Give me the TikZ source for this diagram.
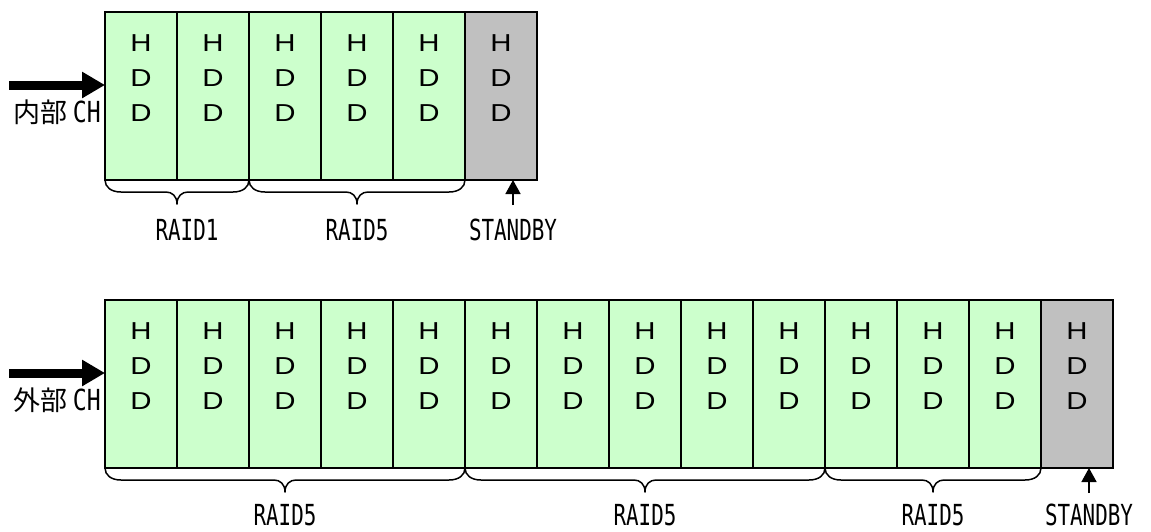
\documentclass[tikz,border=0pt]{standalone}
\usepackage{fontspec}
\setmainfont{Liberation Sans}
\newfontfamily\cjkfont{Noto Sans CJK JP}
\newfontfamily\monofont{DejaVu Sans Mono}
\usetikzlibrary{arrows.meta,calc}
\definecolor{hddgreen}{HTML}{CCFFCC}
\definecolor{hddgray}{HTML}{C0C0C0}
\newcommand\hddtext{\scalebox{1.2}[1]{H}\\\scalebox{1.2}[1]{D}\\\scalebox{1.2}[1]{D}}
\newcommand\lbltext[1]{\scalebox{0.72}[1]{#1}}
\newcommand\hddbrace[2]{%
  \path (#1.south west) coordinate (bl) (#2.south east) coordinate (br)
        ($(bl)!0.5!(br)$) coordinate (bm);
  \draw[bracestyle] (bl) .. controls ($(bl)+(0,7)$) and ($(bl)+(6,12)$) .. ($(bl)+(16,12)$)
     -- ($(bm)+(-11,12)$) .. controls ($(bm)+(-5,12)$) and ($(bm)+(0,16)$) .. ($(bm)+(0,24)$)
     .. controls ($(bm)+(0,16)$) and ($(bm)+(5,12)$) .. ($(bm)+(11,12)$)
     -- ($(br)+(-16,12)$) .. controls ($(br)+(-6,12)$) and ($(br)+(0,7)$) .. (br);
}
\begin{document}
\begin{tikzpicture}[x=1pt,y=-1pt,
  hdd/.style={draw=black, line width=1.6pt, fill=hddgreen, minimum width=72pt,
              minimum height=168pt, inner sep=0pt, outer sep=0pt},
  spare/.style={hdd, fill=hddgray},
  hddtxt/.style={font=\fontsize{24.5}{35}\selectfont, align=center, inner sep=0pt},
  lbl/.style={font=\monofont\fontsize{29}{29}\selectfont, inner sep=0pt},
  chlbl/.style={font=\fontsize{27}{27}\selectfont, inner sep=0pt, anchor=east},
  bracestyle/.style={line width=1.5pt, line join=round},
  feed/.style={line width=9pt, -{Triangle[length=23pt,width=25pt]}},
  pointer/.style={line width=1.6pt, -{Triangle[length=14pt,width=15pt]}}
]
\useasboundingbox (0,0) rectangle (1151,531);

% top row
\foreach \i in {1,...,5} {
  \node[hdd] (t\i) at ({141+72*(\i-1)},96) {};
  \node[hddtxt] (tt\i) at ({141+72*(\i-1)},78) {\hddtext};
}
\node[spare] (t6) at ({141+72*5},96) {};
\node[hddtxt] (tt6) at ({141+72*5},78) {\hddtext};

% bottom row
\foreach \i in {1,...,13} {
  \node[hdd] (b\i) at ({141+72*(\i-1)},384) {};
  \node[hddtxt] (bt\i) at ({141+72*(\i-1)},366) {\hddtext};
}
\node[spare] (b14) at ({141+72*13},384) {};
\node[hddtxt] (bt14) at ({141+72*13},366) {\hddtext};

% input arrows
\coordinate (inA) at (9,85);
\draw[feed] (inA) -- (inA -| t1.west);
\node[chlbl] (chA) at (101,112) {{\cjkfont 内部}\hspace{5pt}{\monofont\fontsize{29}{29}\selectfont\scalebox{0.8}[1]{CH}}};
\coordinate (inB) at (9,373);
\draw[feed] (inB) -- (inB -| b1.west);
\node[chlbl] (chB) at (101,400) {{\cjkfont 外部}\hspace{5pt}{\monofont\fontsize{29}{29}\selectfont\scalebox{0.8}[1]{CH}}};

% braces
\hddbrace{t1}{t2}
\hddbrace{t3}{t5}
\hddbrace{b1}{b5}
\hddbrace{b6}{b10}
\hddbrace{b11}{b13}

% labels
\node[lbl] (r1) at (187,230) {\lbltext{RAID1}};
\node[lbl] (r2) at (357,230) {\lbltext{RAID5}};
\node[lbl] (s1) at ($(t6.south)+(12,50)$) {\lbltext{STANDBY}};
\coordinate (pA) at ($(t6.south)+(12,25)$);
\draw[pointer] (pA) -- (pA |- t6.south);

\node[lbl] (r3) at (285,515) {\lbltext{RAID5}};
\node[lbl] (r4) at (645,515) {\lbltext{RAID5}};
\node[lbl] (r5) at (933,515) {\lbltext{RAID5}};
\node[lbl] (s2) at ($(b14.south)+(12,47)$) {\lbltext{STANDBY}};
\coordinate (pB) at ($(b14.south)+(12,25)$);
\draw[pointer] (pB) -- (pB |- b14.south);
\end{tikzpicture}
\end{document}
